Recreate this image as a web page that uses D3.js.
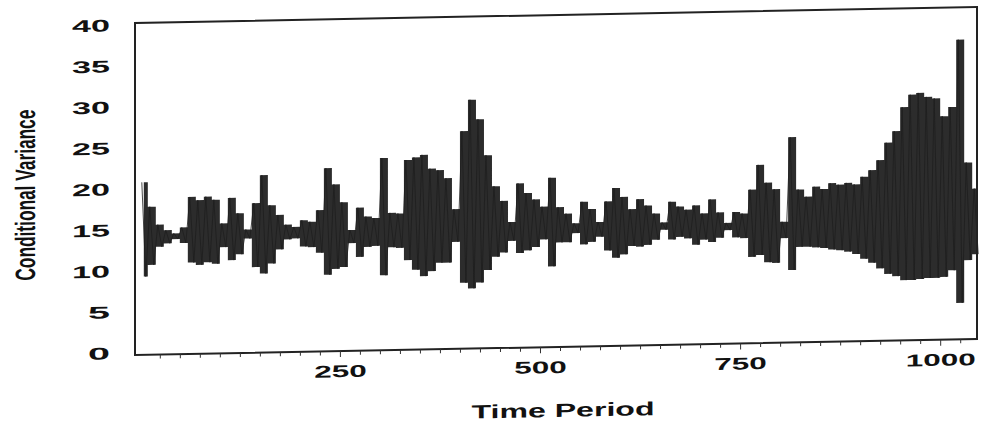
<!DOCTYPE html>
<html>
<head>
<meta charset="utf-8">
<script src="https://cdn.jsdelivr.net/npm/d3@7"></script>
<style>
  html, body { margin: 0; padding: 0; background: #fff; }
  svg { display: block; }
</style>
</head>
<body>
<svg id="viz"></svg>
<script>
const width = 985, height = 425;

// 10-period bins: start of each bin
const binStart = d3.range(0, 1050, 10);

// highest conditional variance inside each bin
const binHigh = [
  20.8, 17.8, 15.6, 14.9, 14.5, 15.2, 18.9, 18.5, 18.9, 18.5,
  15.6, 18.7, 16.8, 14.8, 18.0, 21.4, 17.7, 16.5, 15.3, 15.0,
  15.8, 15.6, 17.0, 22.1, 20.1, 17.9, 14.5, 17.2, 16.1, 15.9,
  23.2, 16.5, 16.4, 22.9, 23.2, 23.5, 21.8, 21.6, 20.6, 16.8,
  26.3, 30.1, 27.7, 23.3, 19.5, 17.7, 15.1, 19.8, 18.6, 17.8,
  16.9, 20.4, 16.8, 16.0, 14.8, 17.4, 16.5, 14.9, 17.4, 19.0,
  17.9, 16.4, 17.6, 16.8, 15.8, 14.7, 17.2, 16.6, 16.2, 16.7,
  15.7, 17.4, 15.8, 14.5, 15.8, 15.6, 18.5, 21.5, 19.3, 18.5,
  14.5, 24.8, 18.4, 17.5, 18.7, 18.4, 19.1, 18.9, 19.1, 18.9,
  19.8, 20.6, 21.8, 23.9, 25.3, 28.2, 29.7, 29.9, 29.4, 29.2,
  27.0, 28.1, 36.3, 21.3, 18.1
];

// lowest conditional variance inside each bin
const binLow = [
  9.3, 10.7, 12.9, 13.3, 13.8, 13.3, 10.9, 10.6, 10.9, 10.7,
  12.7, 11.1, 11.8, 13.7, 10.2, 9.4, 10.6, 12.3, 13.5, 13.6,
  12.6, 12.5, 11.8, 9.1, 9.8, 10.0, 12.9, 11.2, 12.4, 12.5,
  8.9, 12.3, 12.2, 10.7, 9.5, 8.7, 9.3, 10.3, 10.3, 12.8,
  7.8, 7.1, 7.8, 9.3, 10.9, 11.4, 12.8, 11.3, 11.6, 12.0,
  12.9, 9.6, 12.5, 12.5, 13.6, 12.2, 12.5, 13.1, 11.4, 10.5,
  10.9, 11.9, 11.8, 12.0, 12.6, 13.8, 12.6, 12.9, 12.7, 11.9,
  12.5, 12.2, 12.7, 13.6, 12.7, 12.6, 10.3, 10.5, 9.6, 9.5,
  12.5, 8.6, 11.4, 11.4, 11.3, 11.2, 11.0, 10.9, 10.7, 10.4,
  9.8, 9.3, 8.6, 7.9, 7.6, 7.1, 7.1, 7.2, 7.3, 7.3,
  7.4, 8.2, 4.2, 9.4, 10.1
];

const yTicks = [0, 5, 10, 15, 20, 25, 30, 35, 40];
const xMinorTicks = d3.range(25, 1046, 25);
const xLabelTicks = [250, 500, 750, 1000];

const data = binStart.map((t, i) => ({ t: t, hi: binHigh[i], lo: binLow[i] }));

const plotLeft = 135, plotRight = 977, plotTop = 25, plotBottom = 353;

const x = d3.scaleLinear().domain([-6, 1046]).range([plotLeft, plotRight]);
const y = d3.scaleLinear().domain([0, 40]).range([plotBottom, plotTop]);

const svg = d3.select("#viz")
  .attr("width", width)
  .attr("height", height);

// the scanned page is slightly tilted, rising to the right
const g = svg.append("g")
  .attr("transform", `translate(${plotLeft},0) skewY(-1.09) translate(${-plotLeft},0)`);

// series: envelope of each bin, with a zigzag through it for texture
const area = d3.area()
  .x(d => x(d.t + 5))
  .y0(d => y(d.lo))
  .y1(d => y(d.hi))
  .curve(d3.curveStep);

g.append("path")
  .datum(data)
  .attr("d", area)
  .attr("fill", "#2c2c2c");

const zig = [];
data.forEach(d => {
  zig.push([d.t + 2.5, d.hi]);
  zig.push([d.t + 7.5, d.lo]);
});

g.append("path")
  .datum(zig)
  .attr("d", d3.line().x(d => x(d[0])).y(d => y(d[1])))
  .attr("fill", "none")
  .attr("stroke", "#1e1e1e")
  .attr("stroke-width", 0.8);

// frame
g.append("rect")
  .attr("x", plotLeft)
  .attr("y", plotTop - 2)
  .attr("width", plotRight - plotLeft)
  .attr("height", plotBottom - plotTop + 4)
  .attr("fill", "none")
  .attr("stroke", "#222")
  .attr("stroke-width", 2);

// y axis
const yAxis = g.append("g")
  .attr("transform", `translate(${plotLeft},0)`)
  .call(d3.axisLeft(y).tickValues(yTicks).tickSize(0).tickPadding(25));
yAxis.select(".domain").remove();
yAxis.selectAll("text")
  .attr("font-family", "Liberation Sans, Arial, sans-serif")
  .attr("font-weight", "bold")
  .attr("font-size", 17)
  .attr("fill", "#111")
  .attr("textLength", d => String(d).length === 1 ? 22 : 38)
  .attr("lengthAdjust", "spacingAndGlyphs");

// x axis
const xAxis = g.append("g")
  .attr("transform", `translate(0,${plotBottom + 2})`)
  .call(d3.axisBottom(x)
    .tickValues(xMinorTicks)
    .tickSize(4)
    .tickPadding(10)
    .tickFormat(d => xLabelTicks.includes(d) ? d : ""));
xAxis.select(".domain").remove();
xAxis.selectAll("line")
  .attr("stroke", "#333")
  .attr("y2", d => xLabelTicks.includes(d) ? 6 : 4);
xAxis.selectAll("text")
  .attr("font-family", "Liberation Sans, Arial, sans-serif")
  .attr("font-weight", "bold")
  .attr("font-size", 17)
  .attr("fill", "#111")
  .filter(d => xLabelTicks.includes(d))
  .attr("textLength", d => String(d).length * 17.5)
  .attr("lengthAdjust", "spacingAndGlyphs");

// axis titles
g.append("text")
  .attr("x", 563)
  .attr("y", 425)
  .attr("text-anchor", "middle")
  .attr("font-family", "Liberation Sans, Arial, sans-serif")
  .attr("font-weight", "bold")
  .attr("font-size", 19)
  .attr("fill", "#111")
  .attr("textLength", 183)
  .attr("lengthAdjust", "spacingAndGlyphs")
  .text("Time Period");

g.append("text")
  .attr("transform", "translate(35,193) rotate(-90)")
  .attr("text-anchor", "middle")
  .attr("font-family", "Liberation Sans, Arial, sans-serif")
  .attr("font-weight", "bold")
  .attr("font-size", 28)
  .attr("fill", "#111")
  .attr("textLength", 171)
  .attr("lengthAdjust", "spacingAndGlyphs")
  .text("Conditional Variance");
</script>
</body>
</html>
